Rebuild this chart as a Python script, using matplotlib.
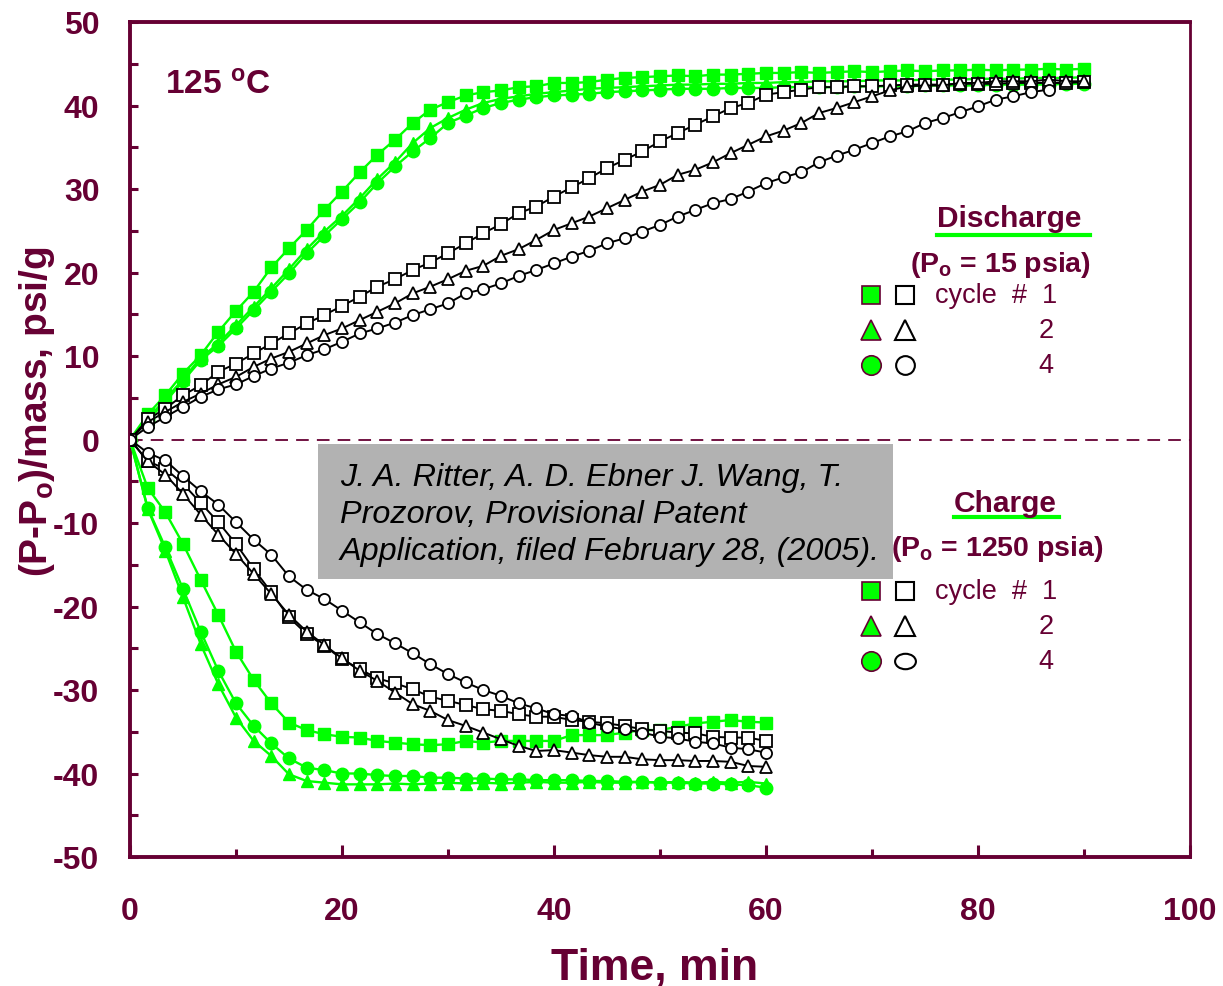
import matplotlib
matplotlib.use("Agg")
import matplotlib.pyplot as plt
from matplotlib.lines import Line2D
from matplotlib.patches import Rectangle
from matplotlib.path import Path
from matplotlib.transforms import Affine2D

plt.rcParams['font.family'] = ['Liberation Sans', 'DejaVu Sans']
plt.rcParams['mathtext.fontset'] = 'custom'
plt.rcParams['mathtext.rm'] = 'Liberation Sans'
plt.rcParams['mathtext.bf'] = 'Liberation Sans:bold'
plt.rcParams['mathtext.it'] = 'Liberation Sans:italic'

# ---------------- data ----------------
time_discharge = [0, 1.67, 3.33, 5.0, 6.67, 8.33, 10.0, 11.67, 13.33, 15.0, 16.67, 18.33,
                  20.0, 21.67, 23.33, 25.0, 26.67, 28.33, 30.0, 31.67, 33.33, 35.0, 36.67,
                  38.33, 40.0, 41.67, 43.33, 45.0, 46.67, 48.33, 50.0, 51.67, 53.33, 55.0,
                  56.67, 58.33, 60.0, 61.67, 63.33, 65.0, 66.67, 68.33, 70.0, 71.67, 73.33,
                  75.0, 76.67, 78.33, 80.0, 81.67, 83.33, 85.0, 86.67, 88.33, 90.0]
time_charge = time_discharge[:37]

# Discharge (Po = 15 psia)
dis_c1_fill = [0, 3.0, 5.3, 7.9, 10.1, 12.9, 15.4, 17.7, 20.6, 22.9, 25.1, 27.5, 29.7, 32.0,
               34.1, 35.9, 37.9, 39.5, 40.4, 41.2, 41.6, 41.8, 42.2, 42.3, 42.7, 42.7, 42.8,
               43.1, 43.3, 43.4, 43.5, 43.6, 43.5, 43.7, 43.7, 43.8, 43.9, 43.9,
               44.0, 43.9, 44.0, 44.1, 44.0, 44.1, 44.2, 44.1, 44.2, 44.2, 44.3, 44.2, 44.3,
               44.3, 44.4, 44.3, 44.4]
dis_c2_fill = [0, 2.5, 4.8, 7.2, 9.8, 11.5, 13.7, 15.9, 18.1, 20.4, 22.8, 24.9, 26.8, 28.9,
               31.2, 33.2, 35.5, 37.3, 38.5, 39.5, 40.3, 40.8, 41.1, 41.4, 41.6, 41.8, 42.0,
               42.1, 42.2, 42.3, 42.4, 42.5, 42.5, 42.6, 42.6, 42.7, 42.7, 42.8, 42.8, 42.9,
               42.9, 42.9, 43.0, 43.0, 43.0, 43.1, 43.1, 43.1, 43.2, 43.2, 43.2, 43.3, 43.3,
               43.3, 43.4]
dis_c4_fill = [0, 2.3, 4.5, 7.0, 9.5, 11.2, 13.3, 15.5, 17.7, 19.9, 22.3, 24.4, 26.4, 28.4,
               30.7, 32.7, 34.5, 36.1, 37.9, 38.8, 39.7, 40.3, 40.7, 41.0, 41.2, 41.3, 41.4,
               41.6, 41.7, 41.8, 41.9, 42.0, 42.0, 42.0, 42.1, 42.1, 42.1, 42.2, 42.2, 42.2,
               42.2, 42.3, 42.3, 42.3, 42.3, 42.4, 42.4, 42.4, 42.4, 42.5, 42.5, 42.5, 42.5,
               42.6, 42.6]
dis_c1_open = [0, 2.4, 3.7, 5.3, 6.5, 8.1, 9.1, 10.3, 11.5, 12.7, 13.9, 14.9, 16.0, 17.1,
               18.3, 19.2, 20.3, 21.2, 22.3, 23.5, 24.7, 25.8, 27.1, 27.9, 29.1, 30.2, 31.3,
               32.5, 33.5, 34.5, 35.7, 36.7, 37.7, 38.7, 39.7, 40.3, 41.3, 41.6, 41.9, 42.2,
               42.2, 42.3, 42.3, 42.4, 42.5, 42.5, 42.5, 42.6, 42.6, 42.6, 42.7, 42.7, 42.7,
               42.7, 42.8]
dis_c2_open = [0, 2.1, 3.3, 4.5, 5.5, 6.6, 7.5, 8.7, 9.7, 10.5, 11.5, 12.5, 13.3, 14.3,
               15.3, 16.3, 17.5, 18.3, 19.2, 20.2, 20.8, 22.0, 22.8, 23.9, 25.1, 25.9, 26.7,
               27.7, 28.7, 29.7, 30.5, 31.7, 32.3, 33.2, 34.3, 35.3, 36.3, 37.0, 37.9, 39.1,
               39.7, 40.4, 41.1, 41.8, 42.3, 42.4, 42.4, 42.7, 42.7, 42.9, 42.9, 42.9, 43.1,
               42.9, 42.9]
dis_c4_open = [0, 1.5, 2.7, 3.9, 5.1, 6.0, 6.6, 7.6, 8.5, 9.2, 10.1, 10.8, 11.7, 12.7,
               13.3, 14.0, 14.9, 15.6, 16.3, 17.5, 18.0, 18.7, 19.6, 20.3, 21.1, 21.9, 22.6,
               23.5, 24.1, 24.9, 25.7, 26.7, 27.5, 28.3, 28.8, 29.7, 30.7, 31.4, 32.0, 33.2,
               34.0, 34.7, 35.5, 36.3, 36.9, 37.9, 38.5, 39.2, 39.9, 40.7, 41.1, 41.6, 41.9]

# Charge (Po = 1250 psia)
chg_c1_fill = [0, -5.8, -8.7, -12.5, -16.8, -21.0, -25.4, -28.8, -31.6, -33.9, -34.8, -35.3,
               -35.6, -35.7, -36.1, -36.3, -36.5, -36.6, -36.5, -36.1, -36.3, -36.1, -36.1,
               -36.1, -36.1, -35.4, -35.4, -35.4, -35.1, -34.8, -34.8, -34.4, -34.0, -33.8,
               -33.6, -33.8, -33.9]
chg_c2_fill = [0, -8.3, -13.3, -18.9, -24.5, -29.3, -33.3, -36.1, -37.9, -40.1, -40.9, -41.1,
               -41.3, -41.3, -41.3, -41.2, -41.3, -41.2, -41.1, -41.2, -41.1, -41.2, -41.1,
               -41.0, -41.1, -41.1, -41.0, -41.1, -41.1, -41.0, -41.1, -41.0, -41.1, -41.0,
               -41.1, -41.0, -41.2]
chg_c4_fill = [0, -8.2, -12.9, -17.9, -23.0, -27.7, -31.6, -34.3, -36.4, -38.2, -39.3, -39.6,
               -40.0, -40.0, -40.2, -40.3, -40.3, -40.5, -40.5, -40.6, -40.6, -40.7, -40.7,
               -40.8, -40.8, -40.8, -40.9, -40.9, -41.0, -41.0, -41.1, -41.1, -41.2, -41.2,
               -41.3, -41.4, -41.7]
chg_c1_open = [0, -2.6, -3.5, -5.3, -7.6, -9.9, -12.5, -15.5, -18.3, -21.3, -23.3, -24.7,
               -26.3, -27.5, -28.6, -29.2, -29.9, -30.8, -31.3, -31.8, -32.3, -32.5, -32.9,
               -33.2, -33.2, -33.6, -33.8, -34.0, -34.3, -34.7, -34.9, -35.1, -35.2, -35.6,
               -35.7, -35.7, -36.1]
chg_c2_open = [0, -2.6, -4.2, -6.5, -9.0, -11.4, -13.7, -16.1, -18.5, -21.0, -23.0, -24.6,
               -26.2, -27.7, -28.9, -30.3, -31.7, -32.5, -33.6, -34.3, -35.1, -35.9, -36.7,
               -37.3, -37.2, -37.5, -37.8, -38.0, -38.0, -38.3, -38.4, -38.4, -38.5, -38.5,
               -38.6, -39.1, -39.2]
chg_c4_open = [0, -1.6, -2.5, -4.4, -6.2, -7.8, -9.9, -12.0, -13.8, -16.4, -18.0, -19.1,
               -20.5, -21.9, -23.3, -24.4, -25.6, -26.9, -28.1, -29.1, -30.0, -30.7, -31.6,
               -32.2, -32.9, -33.1, -33.9, -34.4, -34.7, -35.1, -35.6, -35.8, -36.2, -36.4,
               -36.9, -37.1, -37.5]

x_ticks = [0, 20, 40, 60, 80, 100]
y_ticks = [-50, -40, -30, -20, -10, 0, 10, 20, 30, 40, 50]
citation = ["J. A. Ritter, A. D. Ebner J. Wang, T.",
            "Prozorov, Provisional Patent",
            "Application, filed February 28, (2005)."]

# ---------------- style ----------------
MAROON = '#660033'
GREEN = '#00FF00'
W, H = 1223, 987

fig = plt.figure(figsize=(W / 100, H / 100), dpi=100)
ax = fig.add_axes([130 / W, 1 - 858 / H, 1060 / W, 835 / H])

ellipse = Path.unit_circle().transformed(Affine2D().scale(1.35, 1.0))

# green (filled) series
g_kw = dict(color=GREEN, lw=1.7, mfc=GREEN, mec=GREEN, zorder=3)
ax.plot(time_discharge, dis_c1_fill, marker='s', ms=8.5, **g_kw)
ax.plot(time_discharge, dis_c2_fill, marker='^', ms=9, **g_kw)
ax.plot(time_discharge, dis_c4_fill, marker='o', ms=9, **g_kw)
ax.plot(time_charge, chg_c1_fill, marker='s', ms=8.5, **g_kw)
ax.plot(time_charge, chg_c2_fill, marker='^', ms=9, **g_kw)
ax.plot(time_charge, chg_c4_fill, marker='o', ms=9, **g_kw)

# black (open) series
k_kw = dict(color='black', lw=1.4, mfc='white', mec='black', mew=1.3, zorder=4)
ax.plot(time_discharge, dis_c1_open, marker='s', ms=8, **k_kw)
ax.plot(time_discharge, dis_c2_open, marker='^', ms=9, **k_kw)
ax.plot(time_discharge[:len(dis_c4_open)], dis_c4_open, marker='o', ms=8, **k_kw)
ax.plot(time_charge, chg_c1_open, marker='s', ms=8, **k_kw)
ax.plot(time_charge, chg_c2_open, marker='^', ms=9, **k_kw)
ax.plot(time_charge, chg_c4_open, marker='o', ms=8, **k_kw)

# zero line
ax.axhline(0, color=MAROON, lw=1.3, ls=(0, (7, 4.5)), zorder=2)

ax.set_xlim(0, 100)
ax.set_ylim(-50, 50)
ax.set_xticks(x_ticks)
ax.set_xticks([10, 30, 50, 70, 90], minor=True)
ax.set_yticks(y_ticks)
ax.set_yticks([-45, -35, -25, -15, -5, 5, 15, 25, 35, 45], minor=True)
ax.set_xticklabels([str(v) for v in x_ticks])
ax.set_yticklabels([str(v) for v in y_ticks])

ax.tick_params(axis='x', which='major', direction='in', length=9, width=2.2, color=MAROON,
               pad=28, labelsize=23, labelcolor=MAROON, top=False)
ax.tick_params(axis='x', which='minor', direction='in', length=6, width=2.2, color=MAROON,
               top=False)
ax.tick_params(axis='y', which='both', direction='in', length=6, width=2.2, color=MAROON,
               right=False)
ax.tick_params(axis='y', which='major', pad=22, labelsize=23, labelcolor=MAROON)
for lab in ax.get_xticklabels() + ax.get_yticklabels():
    lab.set_fontweight('bold')

for side in ['left', 'bottom', 'top']:
    ax.spines[side].set_color(MAROON)
    ax.spines[side].set_linewidth(2.8)
ax.spines['right'].set_color(MAROON)
ax.spines['right'].set_linewidth(2.0)

ax.set_xlabel('Time, min', fontsize=32, fontweight='bold', color=MAROON)
ax.xaxis.set_label_coords(0.495, -0.108)
ax.set_ylabel('(P-P$_\\mathbf{o}$)/mass, psi/g', fontsize=28, fontweight='bold', color=MAROON)
ax.yaxis.set_label_coords(-0.069, 0.534)

def fx(px):
    return px / W

def fy(py):
    return 1 - py / H

# temperature label
fig.text(fx(165), fy(86), '125 $^\\mathbf{o}$C', fontsize=24, fontweight='bold',
         color=MAROON, ha='left', va='center')

# citation box
box = Rectangle((fx(318), fy(580)), fx(893) - fx(318), fy(445) - fy(580),
                transform=fig.transFigure, facecolor='#B2B2B2', edgecolor='none', zorder=10)
fig.add_artist(box)
for k, line in enumerate(citation):
    fig.text(fx(340), fy(478 + 37 * k), line, fontsize=23.3, fontstyle='italic',
             color='black', ha='left', va='center', zorder=11)

# legends
def legend_block(title, title_y, title_cx, ul_x0, ul_x1, ul_y, sub, sub_x, sub_y, rows_y,
                 open_last, open_last_size):
    fig.text(fx(title_cx), fy(title_y), title, fontsize=21.5, fontweight='bold', color=MAROON,
             ha='center', va='center', zorder=5)
    fig.add_artist(Line2D([fx(ul_x0), fx(ul_x1)], [fy(ul_y), fy(ul_y)],
                          transform=fig.transFigure, color=GREEN, lw=3, zorder=5))
    fig.text(fx(sub_x), fy(sub_y), sub, fontsize=20.5, fontweight='bold', color=MAROON,
             ha='right', va='center', zorder=5)
    markers = ['s', '^', 'o']
    sizes = [13, 14, 14]
    for m, s, yy in zip(markers, sizes, rows_y):
        fig.add_artist(Line2D([fx(871)], [fy(yy)], transform=fig.transFigure, marker=m,
                              ms=s, mfc=GREEN, mec=MAROON, mew=1.2, ls='none', zorder=5))
    open_markers = ['s', '^', open_last]
    open_sizes = [12.5, 14, open_last_size]
    for m, s, yy in zip(open_markers, open_sizes, rows_y):
        fig.add_artist(Line2D([fx(905)], [fy(yy)], transform=fig.transFigure, marker=m,
                              ms=s, mfc='white', mec='black', mew=1.5, ls='none', zorder=5))
    fig.text(fx(935), fy(rows_y[0]), 'cycle  #  1', fontsize=19.5, color=MAROON,
             ha='left', va='center', zorder=5)
    fig.text(fx(1046), fy(rows_y[1]), '2', fontsize=19.5, color=MAROON, ha='center',
             va='center', zorder=5)
    fig.text(fx(1046), fy(rows_y[2]), '4', fontsize=19.5, color=MAROON, ha='center',
             va='center', zorder=5)

legend_block('Discharge', 219, 1009, 937, 1090, 236, '(P$_\\mathbf{o}$ = 15 psia)', 1091, 265,
             [296, 331, 366], 'o', 13.5)
legend_block('Charge', 504, 1005, 954, 1059, 518, '(P$_\\mathbf{o}$ = 1250 psia)', 1104, 549,
             [592, 627, 662], ellipse, 15)

fig.savefig('out.png', dpi=100)
